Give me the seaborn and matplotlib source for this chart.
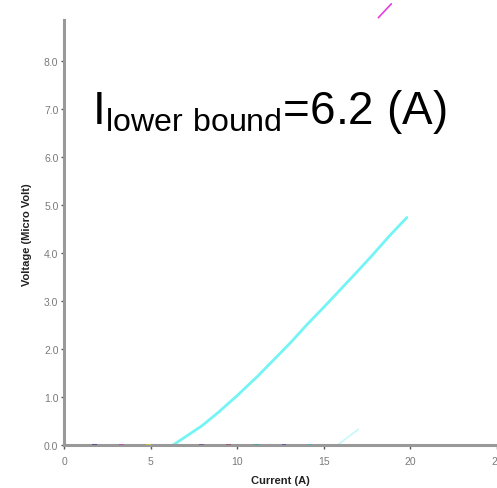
import matplotlib
matplotlib.use("Agg")
import matplotlib.pyplot as plt
import seaborn as sns
import numpy as np
import pandas as pd

# main I-V curve (current in A, voltage in micro volt)
current = [6.3, 7.96, 8.91, 10.0, 11.2, 13.1, 14.06, 15.0, 16.9, 17.87, 18.8, 19.8]
voltage = [0.0, 0.40, 0.68, 1.03, 1.44, 2.14, 2.52, 2.87, 3.60, 3.98, 4.36, 4.74]

# faint second trace near the axis
current2 = [15.87, 17.0]
voltage2 = [0.02, 0.33]

# magenta fragment at the top
current3 = [18.15, 18.9]
voltage3 = [8.9, 9.19]

# small coloured marks sitting on the x axis
dot_x = [1.77, 3.3, 4.9, 7.96, 9.5, 11.1, 12.7, 14.2]
dot_colors = ['#5a3c8c', '#c040c0', '#d8c040', '#7a4c9c', '#a05060', '#40a0a0', '#5050b0', '#40b0c0']

x_ticks = [0, 5, 10, 15, 20, 25]
y_ticks = [0, 1, 2, 3, 4, 5, 6, 7, 8]

sns.set_style("ticks")
plt.rcParams['font.family'] = ['Liberation Sans', 'DejaVu Sans']
plt.rcParams['mathtext.fontset'] = 'custom'
plt.rcParams['mathtext.rm'] = 'Liberation Sans'

fig = plt.figure(figsize=(4.97, 4.89), dpi=100)
ax = fig.add_axes([0.1288, 0.0879, 0.8712, 0.9121])

df = pd.DataFrame({"Current": current, "Voltage": voltage})
sns.lineplot(data=df, x="Current", y="Voltage", color="#74f4f4", linewidth=2.0, ax=ax)
sns.lineplot(x=current2, y=voltage2, color="#c8f8f8", linewidth=1.2, ax=ax)
sns.lineplot(x=current3, y=voltage3, color="#e040e0", linewidth=1.2, ax=ax)
sns.scatterplot(x=dot_x, y=[0] * len(dot_x), c=dot_colors, marker="_", s=12,
                linewidth=1.2, ax=ax, zorder=5)

ax.set_xlim(0, 24.74)
ax.set_ylim(0, 9.29)
ax.set_xticks(x_ticks)
ax.set_yticks(y_ticks)
ax.set_yticklabels([f"{v:.1f}" for v in y_ticks])

sns.despine(ax=ax)
for side in ["left", "bottom"]:
    ax.spines[side].set_color("#999999")
    ax.spines[side].set_linewidth(2.2)
ax.spines["left"].set_bounds(0, 8.85)

ax.tick_params(axis="both", labelsize=7.5, labelcolor="#7a7a7a", color="#555555",
               width=1.0)
ax.tick_params(axis="y", length=2, pad=2)
ax.tick_params(axis="x", length=3, pad=5)

ax.set_xlabel("Current (A)", fontsize=8, fontweight="bold", color="#222222")
ax.set_ylabel("Voltage (Micro Volt)", fontsize=8, fontweight="bold", color="#222222")
ax.xaxis.set_label_coords(0.5, -0.067)
ax.yaxis.set_label_coords(-0.074, 0.473)

ax.text(1.6, 6.7, r"$\mathrm{I}_{\mathrm{lower\ bound}}$=6.2 (A)", fontsize=33,
        color="black", ha="left", va="baseline")

fig.savefig("out.png", dpi=100)
